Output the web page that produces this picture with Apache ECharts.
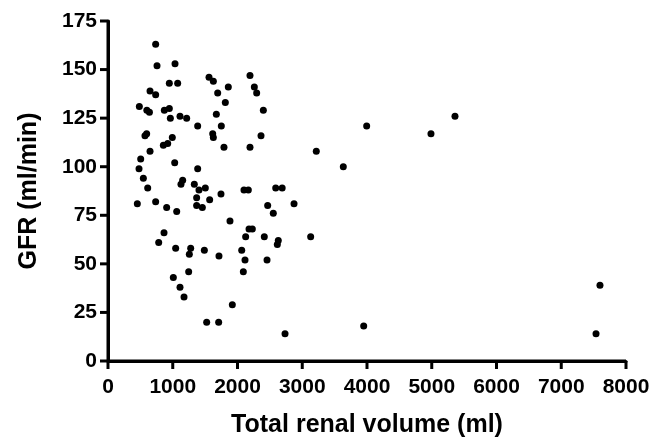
<!DOCTYPE html>
<html>
<head>
<meta charset="utf-8">
<script src="https://cdn.jsdelivr.net/npm/echarts@6/dist/echarts.min.js"></script>
<style>
  html, body { margin: 0; padding: 0; background: #fff; }
  #chart { width: 667px; height: 443px; }
</style>
</head>
<body>
<div id="chart"></div>
<script>
// total renal volume (ml) per patient
var volume = [
  736, 757, 1035, 947, 1076, 649, 736, 484, 600, 640,
  870, 947, 963, 1112, 1215, 1385, 597, 571, 993, 855,
  922, 649, 505, 479, 1030, 546, 613, 1127, 1153, 1385,
  1333, 1405, 1503, 1560, 1627, 1694, 1858, 1812, 1673, 1750,
  1617, 1627, 1791, 2193, 2260, 2296, 2399, 2363, 2193, 2100,
  2167, 2590, 2690, 1369, 1570, 1745, 453, 736, 906, 1061,
  1369, 1457, 2466, 2553, 1884, 2178, 2229, 2126, 2414, 2630,
  2615, 865, 783, 1045, 1277, 1256, 1488, 1714, 2065, 2116,
  2090, 2456, 1246, 1009, 1112, 1174, 1920, 1524, 1709, 3995,
  4988, 3217, 3634, 2873, 3130, 2734, 3949, 5359, 7598, 7537
];
// GFR (ml/min) for the same patients
var gfr = [
  163, 152, 153, 143, 143, 139, 137, 131, 129, 128,
  129, 130, 125, 126, 125, 121, 117, 116, 115, 111,
  112, 108, 104, 99, 102, 94, 89, 91, 93, 99,
  91, 88, 89, 146, 144, 138, 141, 133, 127, 121,
  117, 115, 110, 147, 141, 138, 129, 116, 110, 88,
  88, 89, 89, 84, 83, 86, 81, 82, 79, 77,
  80, 79, 80, 76, 72, 68, 68, 64, 64, 62,
  60, 66, 61, 58, 58, 55, 57, 54, 57, 52,
  46, 52, 46, 43, 38, 33, 29, 20, 20, 121,
  117, 108, 100, 81, 64, 14, 18, 126, 39, 14
];
var xTicks = [0, 1000, 2000, 3000, 4000, 5000, 6000, 7000, 8000];
var yTicks = [0, 25, 50, 75, 100, 125, 150, 175];

var xMin = xTicks[0], xMax = xTicks[xTicks.length - 1];
var yMin = yTicks[0], yMax = yTicks[yTicks.length - 1];

var points = volume.map(function (v, i) { return [v, gfr[i]]; });
// L-shaped axis frame and tick marks, placed through the chart's own scales
var frame = [[xMax, yMin], [xMin, yMin], [xMin, yMax]];
var xTickPts = xTicks.map(function (v) { return [v, yMin]; });
var yTickPts = yTicks.map(function (v) { return [xMin, v]; });

var chart = echarts.init(document.getElementById('chart'), null, { renderer: 'canvas' });

var axisText = {
  color: '#000',
  fontFamily: 'Liberation Sans, Arial, sans-serif',
  fontWeight: 'bold',
  fontSize: 21
};

chart.setOption({
  animation: false,
  grid: { left: 108, right: 41, top: 21, bottom: 81 },
  xAxis: {
    type: 'value',
    min: xMin,
    max: xMax,
    interval: 1000,
    name: 'Total renal volume (ml)',
    nameLocation: 'middle',
    nameGap: 52,
    nameTextStyle: Object.assign({}, axisText, { fontSize: 25 }),
    axisLine: { show: true, lineStyle: { color: '#000', width: 3 } },
    axisTick: { show: false },
    axisLabel: Object.assign({}, axisText, {
      margin: 16,
      formatter: function (v) { return String(v); }
    }),
    splitLine: { show: false }
  },
  yAxis: {
    type: 'value',
    min: yMin,
    max: yMax,
    interval: 25,
    name: 'GFR (ml/min)',
    nameLocation: 'middle',
    nameGap: 66,
    nameTextStyle: Object.assign({}, axisText, { fontSize: 25 }),
    axisLine: { show: true, lineStyle: { color: '#000', width: 3 } },
    axisTick: { show: false },
    axisLabel: Object.assign({}, axisText, { margin: 11 }),
    splitLine: { show: false }
  },
  series: [
    {
      type: 'line',
      data: frame,
      symbol: 'none',
      clip: false,
      silent: true,
      lineStyle: { color: '#000', width: 3 },
      z: 1
    },
    {
      type: 'scatter',
      data: xTickPts,
      symbol: 'rect',
      symbolSize: [3, 8],
      symbolOffset: [0, 4],
      clip: false,
      silent: true,
      itemStyle: { color: '#000', opacity: 1 },
      z: 1
    },
    {
      type: 'scatter',
      data: yTickPts,
      symbol: 'rect',
      symbolSize: [8, 3],
      symbolOffset: [-4, 0],
      clip: false,
      silent: true,
      itemStyle: { color: '#000', opacity: 1 },
      z: 1
    },
    {
      type: 'scatter',
      data: points,
      symbol: 'circle',
      symbolSize: 7,
      itemStyle: { color: '#000', opacity: 1 },
      z: 2
    }
  ]
});
</script>
</body>
</html>
